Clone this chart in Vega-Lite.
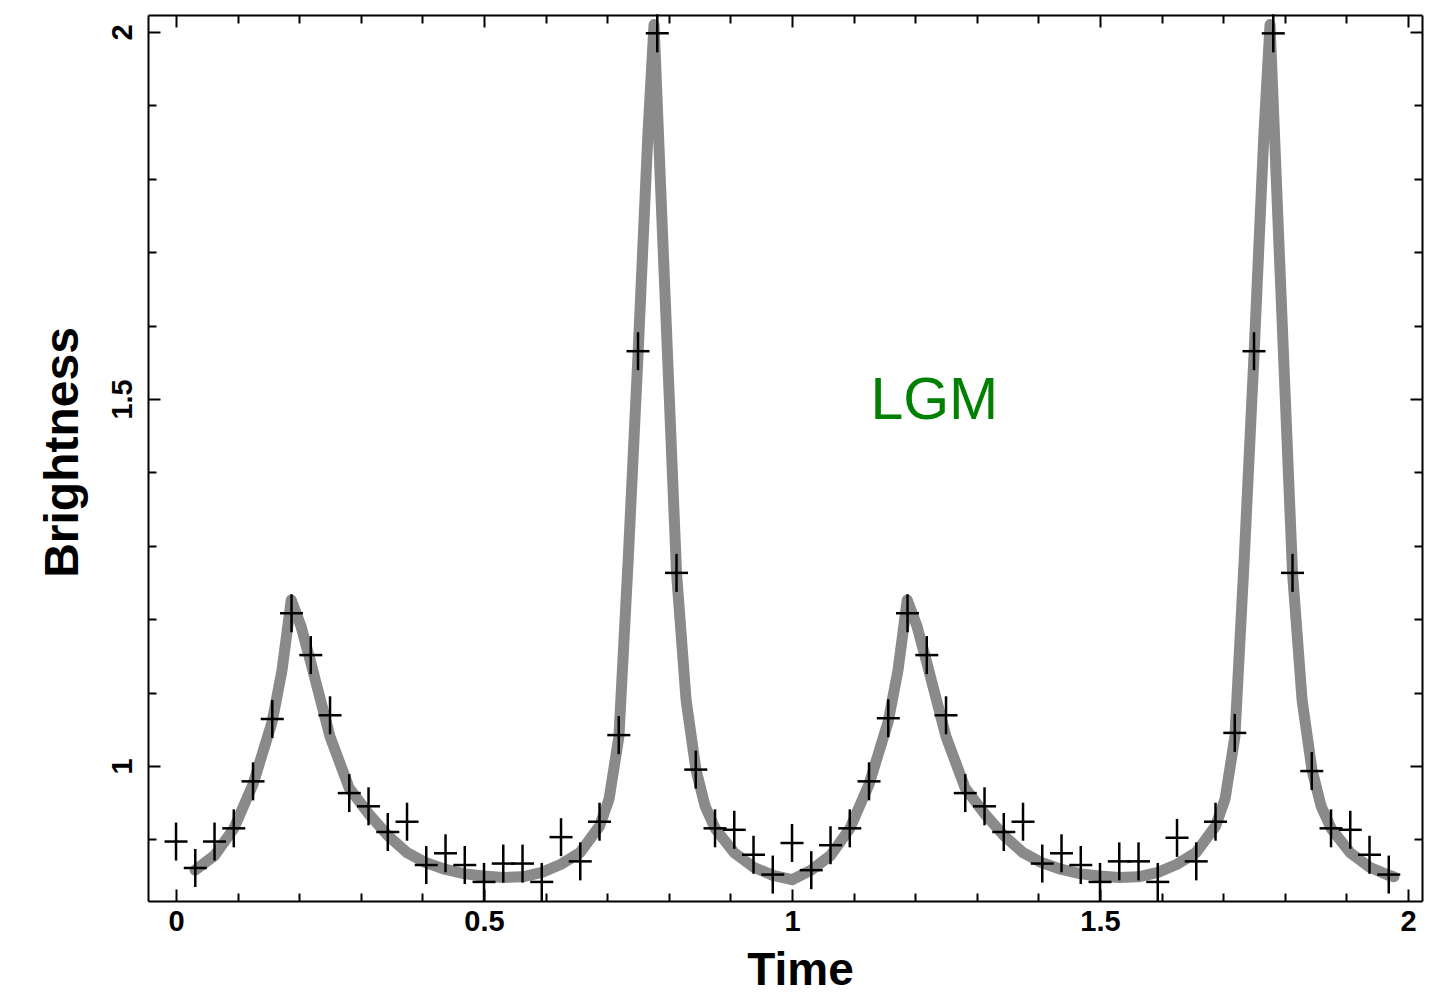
{
  "$schema": "https://vega.github.io/schema/vega-lite/v6.json",
  "width": 1274,
  "height": 886,
  "autosize": {"type": "none"},
  "padding": {"left": 148, "top": 15, "right": 16, "bottom": 97},
  "background": "white",
  "config": {
    "view": {"stroke": null},
    "axis": {"grid": false, "domainColor": "black", "tickColor": "black", "labelColor": "black", "titleColor": "black", "labelFont": "Liberation Sans", "titleFont": "Liberation Sans", "labelFlush": false, "labelOverlap": false}
  },
  "datasets": {
    "obs": [
      {"t": 0.0, "b": 0.897}, {"t": 0.03125, "b": 0.861}, {"t": 0.0625, "b": 0.897}, {"t": 0.09375, "b": 0.915},
      {"t": 0.125, "b": 0.979}, {"t": 0.15625, "b": 1.064}, {"t": 0.1875, "b": 1.208}, {"t": 0.21875, "b": 1.151},
      {"t": 0.25, "b": 1.069}, {"t": 0.28125, "b": 0.963}, {"t": 0.3125, "b": 0.945}, {"t": 0.34375, "b": 0.91},
      {"t": 0.375, "b": 0.924}, {"t": 0.40625, "b": 0.865}, {"t": 0.4375, "b": 0.881}, {"t": 0.46875, "b": 0.865},
      {"t": 0.5, "b": 0.842}, {"t": 0.53125, "b": 0.867}, {"t": 0.5625, "b": 0.867}, {"t": 0.59375, "b": 0.842},
      {"t": 0.625, "b": 0.903}, {"t": 0.65625, "b": 0.87}, {"t": 0.6875, "b": 0.924}, {"t": 0.71875, "b": 1.042},
      {"t": 0.75, "b": 1.565}, {"t": 0.78125, "b": 1.998}, {"t": 0.8125, "b": 1.263}, {"t": 0.84375, "b": 0.995},
      {"t": 0.875, "b": 0.915}, {"t": 0.90625, "b": 0.913}, {"t": 0.9375, "b": 0.879}, {"t": 0.96875, "b": 0.852},
      {"t": 1.0, "b": 0.895}, {"t": 1.03125, "b": 0.858}, {"t": 1.0625, "b": 0.892}, {"t": 1.09375, "b": 0.915},
      {"t": 1.125, "b": 0.979}, {"t": 1.15625, "b": 1.065}, {"t": 1.1875, "b": 1.208}, {"t": 1.21875, "b": 1.151},
      {"t": 1.25, "b": 1.069}, {"t": 1.28125, "b": 0.963}, {"t": 1.3125, "b": 0.945}, {"t": 1.34375, "b": 0.91},
      {"t": 1.375, "b": 0.924}, {"t": 1.40625, "b": 0.867}, {"t": 1.4375, "b": 0.881}, {"t": 1.46875, "b": 0.865},
      {"t": 1.5, "b": 0.842}, {"t": 1.53125, "b": 0.87}, {"t": 1.5625, "b": 0.87}, {"t": 1.59375, "b": 0.842},
      {"t": 1.625, "b": 0.902}, {"t": 1.65625, "b": 0.87}, {"t": 1.6875, "b": 0.924}, {"t": 1.71875, "b": 1.045},
      {"t": 1.75, "b": 1.565}, {"t": 1.78125, "b": 1.998}, {"t": 1.8125, "b": 1.263}, {"t": 1.84375, "b": 0.993},
      {"t": 1.875, "b": 0.915}, {"t": 1.90625, "b": 0.913}, {"t": 1.9375, "b": 0.879}, {"t": 1.96875, "b": 0.852}
    ],
    "model": [
      {"t": 0.031, "m": 0.858}, {"t": 0.0625, "m": 0.878}, {"t": 0.094, "m": 0.915}, {"t": 0.125, "m": 0.975},
      {"t": 0.156, "m": 1.06}, {"t": 0.172, "m": 1.13}, {"t": 0.187, "m": 1.226}, {"t": 0.203, "m": 1.19},
      {"t": 0.219, "m": 1.14}, {"t": 0.25, "m": 1.04}, {"t": 0.281, "m": 0.97}, {"t": 0.3125, "m": 0.935},
      {"t": 0.344, "m": 0.905}, {"t": 0.375, "m": 0.882}, {"t": 0.406, "m": 0.868}, {"t": 0.4375, "m": 0.859},
      {"t": 0.469, "m": 0.853}, {"t": 0.5, "m": 0.85}, {"t": 0.531, "m": 0.848}, {"t": 0.5625, "m": 0.849},
      {"t": 0.594, "m": 0.855}, {"t": 0.625, "m": 0.866}, {"t": 0.656, "m": 0.882}, {"t": 0.6875, "m": 0.918},
      {"t": 0.703, "m": 0.955}, {"t": 0.719, "m": 1.04}, {"t": 0.734, "m": 1.28}, {"t": 0.75, "m": 1.56},
      {"t": 0.766, "m": 1.86}, {"t": 0.776, "m": 2.01}, {"t": 0.79, "m": 1.72}, {"t": 0.8125, "m": 1.263},
      {"t": 0.828, "m": 1.09}, {"t": 0.844, "m": 0.995}, {"t": 0.859, "m": 0.945}, {"t": 0.875, "m": 0.915},
      {"t": 0.906, "m": 0.882}, {"t": 0.9375, "m": 0.862}, {"t": 0.969, "m": 0.851}, {"t": 1.0, "m": 0.845},
      {"t": 1.031, "m": 0.858}, {"t": 1.0625, "m": 0.878}, {"t": 1.094, "m": 0.915}, {"t": 1.125, "m": 0.975},
      {"t": 1.156, "m": 1.06}, {"t": 1.172, "m": 1.13}, {"t": 1.187, "m": 1.226}, {"t": 1.203, "m": 1.19},
      {"t": 1.219, "m": 1.14}, {"t": 1.25, "m": 1.04}, {"t": 1.281, "m": 0.97}, {"t": 1.3125, "m": 0.935},
      {"t": 1.344, "m": 0.905}, {"t": 1.375, "m": 0.882}, {"t": 1.406, "m": 0.868}, {"t": 1.4375, "m": 0.859},
      {"t": 1.469, "m": 0.853}, {"t": 1.5, "m": 0.85}, {"t": 1.531, "m": 0.848}, {"t": 1.5625, "m": 0.849},
      {"t": 1.594, "m": 0.855}, {"t": 1.625, "m": 0.866}, {"t": 1.656, "m": 0.882}, {"t": 1.6875, "m": 0.918},
      {"t": 1.703, "m": 0.955}, {"t": 1.719, "m": 1.04}, {"t": 1.734, "m": 1.28}, {"t": 1.75, "m": 1.56},
      {"t": 1.766, "m": 1.86}, {"t": 1.776, "m": 2.01}, {"t": 1.79, "m": 1.72}, {"t": 1.8125, "m": 1.263},
      {"t": 1.828, "m": 1.09}, {"t": 1.844, "m": 0.995}, {"t": 1.859, "m": 0.945}, {"t": 1.875, "m": 0.915},
      {"t": 1.906, "m": 0.882}, {"t": 1.9375, "m": 0.862}, {"t": 1.969, "m": 0.851}, {"t": 1.977, "m": 0.849}
    ],
    "note": [{"t": 1.231, "b": 1.473, "label": "LGM"}]
  },
  "resolve": {"axis": {"x": "independent", "y": "independent"}},
  "layer": [
    {
      "data": {"name": "model"},
      "mark": {"type": "line", "color": "#8a8a8a", "strokeWidth": 11, "strokeCap": "round", "strokeJoin": "round"},
      "encoding": {
        "x": {"field": "t", "type": "quantitative", "scale": {"domain": [-0.0455, 2.0227], "nice": false, "zero": false},
          "axis": {"orient": "bottom", "values": [0, 0.5, 1, 1.5, 2], "format": "~g", "tickSize": -12, "tickWidth": 2, "domain": true, "domainWidth": 2,
            "labelFontSize": 29, "labelFontWeight": "bold", "labelPadding": 18,
            "title": "Time", "titleFontSize": 46, "titleFontWeight": "bold", "titleX": 652, "titleY": 83, "titleAlign": "center", "titleBaseline": "alphabetic"}},
        "y": {"field": "m", "type": "quantitative", "scale": {"domain": [0.816, 2.023], "nice": false, "zero": false},
          "axis": {"orient": "left", "values": [1, 1.5, 2], "format": "~g", "tickSize": -12, "tickWidth": 2, "domain": true, "domainWidth": 2,
            "labelFontSize": 29, "labelFontWeight": "bold", "labelAngle": -90, "labelAlign": "center", "labelBaseline": "alphabetic", "labelPadding": 29,
            "title": "Brightness", "titleFontSize": 48, "titleFontWeight": "bold", "titleAngle": -90, "titleX": -71, "titleY": 437, "titleAlign": "center", "titleBaseline": "alphabetic"}}
      }
    },
    {
      "data": {"name": "obs"},
      "mark": {"type": "tick", "orient": "horizontal", "color": "black", "size": 23, "thickness": 2.5, "opacity": 1},
      "encoding": {
        "x": {"field": "t", "type": "quantitative", "scale": {"domain": [-0.0455, 2.0227], "nice": false, "zero": false},
          "axis": {"orient": "top", "values": [0, 0.5, 1, 1.5, 2], "labels": false, "tickSize": -12, "tickWidth": 2, "domain": true, "domainWidth": 2, "title": null}},
        "y": {"field": "b", "type": "quantitative", "scale": {"domain": [0.816, 2.023], "nice": false, "zero": false},
          "axis": {"orient": "right", "values": [1, 1.5, 2], "labels": false, "tickSize": -12, "tickWidth": 2, "domain": true, "domainWidth": 2, "title": null}}
      }
    },
    {
      "data": {"name": "obs"},
      "mark": {"type": "tick", "orient": "vertical", "color": "black", "size": 38, "thickness": 2.5, "opacity": 1},
      "encoding": {
        "x": {"field": "t", "type": "quantitative", "scale": {"domain": [-0.0455, 2.0227], "nice": false, "zero": false},
          "axis": {"orient": "bottom", "values": [0.1, 0.2, 0.3, 0.4, 0.6, 0.7, 0.8, 0.9, 1.1, 1.2, 1.3, 1.4, 1.6, 1.7, 1.8, 1.9], "labels": false, "tickSize": -8, "tickWidth": 2, "domain": false, "title": null}},
        "y": {"field": "b", "type": "quantitative", "scale": {"domain": [0.816, 2.023], "nice": false, "zero": false},
          "axis": {"orient": "left", "values": [0.9, 1.1, 1.2, 1.3, 1.4, 1.6, 1.7, 1.8, 1.9], "labels": false, "tickSize": -8, "tickWidth": 2, "domain": false, "title": null}}
      }
    },
    {
      "data": {"name": "note"},
      "mark": {"type": "text", "color": "#008000", "font": "Liberation Sans", "fontSize": 59, "align": "center", "baseline": "alphabetic"},
      "encoding": {
        "x": {"field": "t", "type": "quantitative", "scale": {"domain": [-0.0455, 2.0227], "nice": false, "zero": false},
          "axis": {"orient": "top", "values": [0.1, 0.2, 0.3, 0.4, 0.6, 0.7, 0.8, 0.9, 1.1, 1.2, 1.3, 1.4, 1.6, 1.7, 1.8, 1.9], "labels": false, "tickSize": -8, "tickWidth": 2, "domain": false, "title": null}},
        "y": {"field": "b", "type": "quantitative", "scale": {"domain": [0.816, 2.023], "nice": false, "zero": false},
          "axis": {"orient": "right", "values": [0.9, 1.1, 1.2, 1.3, 1.4, 1.6, 1.7, 1.8, 1.9], "labels": false, "tickSize": -8, "tickWidth": 2, "domain": false, "title": null}},
        "text": {"field": "label"}
      }
    }
  ]
}
